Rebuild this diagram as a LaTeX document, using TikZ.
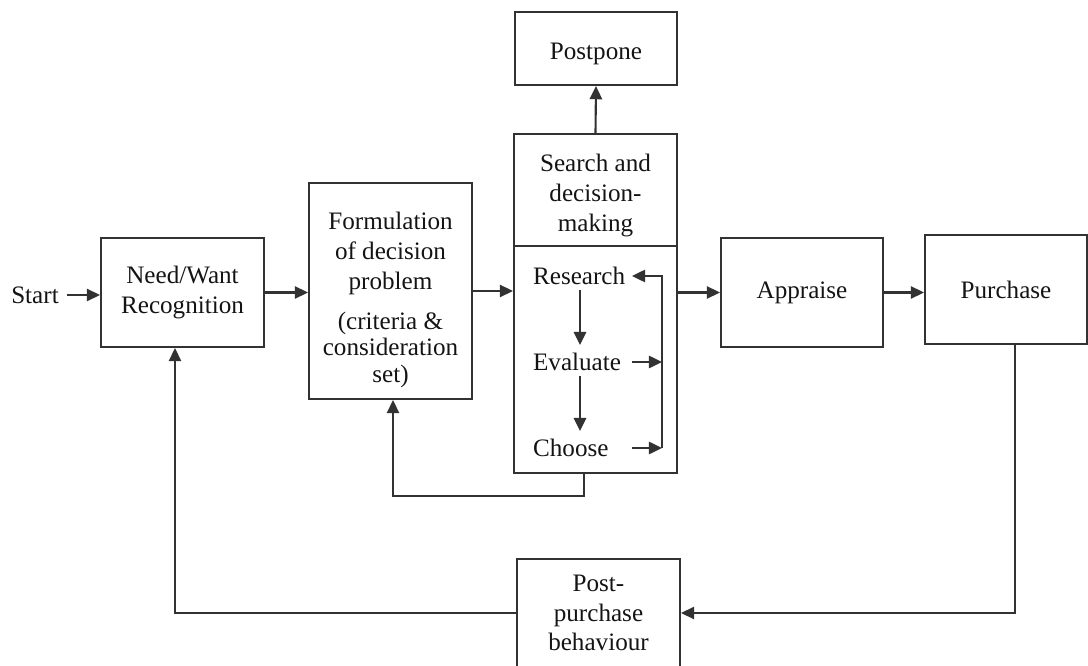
\documentclass[tikz,border=0pt]{standalone}
\usepackage{fontspec}
\setmainfont{Liberation Serif}
\usepackage{tikz}
\usetikzlibrary{positioning, arrows.meta, calc}
\definecolor{LineGray}{RGB}{50,50,50}
\definecolor{TextDark}{RGB}{20,20,20}

\tikzset{
  box/.style={draw=LineGray, line width=1.2pt, align=center, text=TextDark,
              font=\fontsize{14.3}{17}\selectfont, inner sep=2pt},
  lbl/.style={text=TextDark, font=\fontsize{14.3}{17}\selectfont, inner sep=1pt},
  arr/.style={-{Triangle[length=7.5pt,width=7pt]}, draw=LineGray, line width=1.2pt},
}
\newcommand{\lowered}[2]{\raisebox{#1}[\height][\depth]{\begin{tabular}{@{}c@{}}#2\end{tabular}}}

\begin{document}
\begin{tikzpicture}
        \useasboundingbox (0,0) rectangle (21.76,13.3);

        % Main chain
        \node[lbl] (start) at (0.7,7.4) {Start};
        \node[box, minimum width=3.26cm, minimum height=2.18cm] (need) at (3.65,7.45)
              {Need/Want\\Recognition};
        \node[box, minimum width=3.26cm, minimum height=4.32cm] (form) at (7.81,7.48)
              {\lowered{-5pt}{Formulation\\of decision\\problem\\[6pt](criteria \&\\[-2pt]consideration\\[-2pt]set)}};
        \node[box, minimum width=3.26cm, minimum height=2.24cm] (searchT) at (11.91,9.5)
              {\lowered{-3pt}{Search and\\decision-\\making}};
        \node[box, minimum width=3.26cm, minimum height=4.54cm] (searchB) at (11.91,6.11) {};
        \node[box, minimum width=3.24cm, minimum height=1.46cm] (postpone) at (11.92,12.33)
              {\lowered{-3pt}{Postpone}};
        \node[box, minimum width=3.24cm, minimum height=2.18cm] (appraise) at (16.04,7.45)
              {Appraise};
        \node[box, minimum width=3.24cm, minimum height=2.18cm] (purchase) at (20.12,7.51)
              {Purchase};
        \node[box, minimum width=3.26cm, minimum height=2.16cm] (post) at (11.97,1.04)
              {Post-\\purchase\\behaviour};

        % Inside search box
        \node[lbl, anchor=west] (research) at (10.62,7.78) {Research};
        \node[lbl, anchor=west] (evaluate) at (10.62,6.06) {Evaluate};
        \node[lbl, anchor=west] (choose)   at (10.62,4.34) {Choose};
        \coordinate (rs) at (12.64,0);
        \coordinate (rt) at (13.24,0);
        \coordinate (dn) at (11.6,0);

        \draw[arr] ($(dn |- research.south)+(0,-0.06)$) -- ($(dn |- evaluate.north)+(0,0.12)$);
        \draw[arr] ($(dn |- evaluate.south)+(0,-0.06)$) -- ($(dn |- choose.north)+(0,0.12)$);
        \draw[arr] (evaluate.east -| rs) -- (evaluate.east -| rt);
        \draw[arr] (choose.east -| rs) -- (choose.east -| rt);
        \draw[arr] (choose.east -| rt) -- (research.east -| rt) -- (research.east -| rs);

        % Connectors
        \draw[arr] (start.east) ++(0.12,0) -- (need.west |- start.east);
        \draw[arr] (need.east) -- (need.east -| form.west);
        \draw[arr] (form.east) -- (form.east -| searchB.west);
        \draw[arr] (searchT.north) -- (postpone.south);
        \draw[arr] (appraise.west -| searchB.east) -- (appraise.west);
        \draw[arr] (appraise.east) -- (appraise.east -| purchase.west);

        % Feedback loops
        \draw[arr] ([xshift=-0.23cm]searchB.south) -- ++(0,-0.44) -| ([xshift=0.05cm]form.south);
        \draw[arr] ([xshift=0.18cm]purchase.south) |- (post.east);
        \draw[arr] (post.west) -| ([xshift=-0.15cm]need.south);
      \end{tikzpicture}
\end{document}
